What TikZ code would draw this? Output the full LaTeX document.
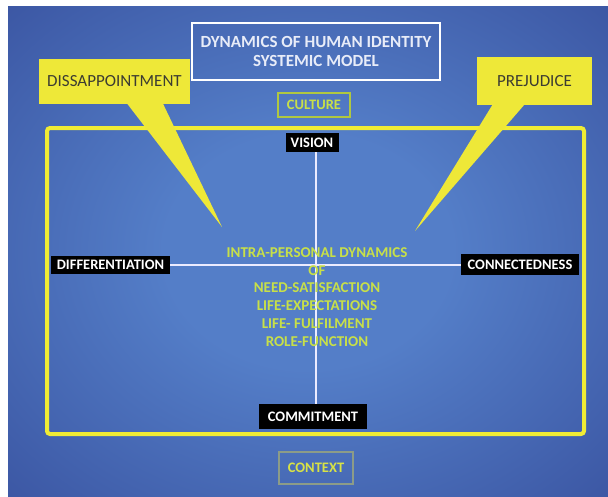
\documentclass[tikz,border=0pt]{standalone}
\usepackage{fontspec}
\setmainfont{Carlito}
\definecolor{bginner}{RGB}{84,126,200}
\definecolor{bgouter}{RGB}{32,42,122}
\definecolor{frameyellow}{RGB}{240,236,52}
\definecolor{calloutyellow}{RGB}{238,232,56}
\definecolor{midtext}{RGB}{200,224,72}
\definecolor{cultureborder}{RGB}{176,200,64}
\definecolor{contextborder}{RGB}{140,156,136}
\definecolor{contexttext}{RGB}{216,226,70}
\definecolor{titletext}{RGB}{232,236,248}
\definecolor{callouttext}{RGB}{60,60,50}
\pgfdeclareradialshading{bgshade}{\pgfpoint{0bp}{0bp}}{color(0bp)=(bginner); color(12bp)=(bginner); color(40bp)=(bgouter!55!bginner); color(60bp)=(bgouter!90!bginner); color(71bp)=(bgouter)}
\tikzset{
  blacklab/.style={fill=black, text=white, inner sep=0pt, font=\bfseries\fontsize{14.5}{15}\selectfont},
  calloutbox/.style={fill=calloutyellow, text=callouttext, inner sep=0pt, font=\fontsize{17}{18}\selectfont},
  tail/.style={fill=calloutyellow},
  axis/.style={draw=white!92!blue, line width=2pt},
  smallbox/.style={inner sep=0pt, font=\bfseries\fontsize{14.5}{15}\selectfont}
}
\begin{document}
\begin{tikzpicture}[x=1pt,y=-1pt]
\useasboundingbox (0,0) rectangle (608,496);
\fill[white] (0,0) rectangle (608,496);
\shade[shading=bgshade] (8,6) rectangle (608,496);

% title
\node[draw=white, line width=1.6pt, minimum width=248, minimum height=57, inner sep=0pt,
      text=titletext, align=center, font=\bfseries\fontsize{17}{19}\selectfont] (title) at (316,51.5)
      {DYNAMICS OF HUMAN IDENTITY\\SYSTEMIC MODEL};

% frame
\node[draw=frameyellow, line width=4pt, rounded corners=3pt, minimum width=537, minimum height=306] (frame) at (315.5,281) {};

% culture / context
\node[smallbox, draw=cultureborder, line width=1.5pt, text=midtext, minimum width=72, minimum height=24] (culture) at (314,105) {CULTURE};
\node[smallbox, draw=contextborder, line width=2pt, text=contexttext, minimum width=74, minimum height=32] (context) at (316,468) {CONTEXT};

% labels
\node[blacklab, minimum width=53, minimum height=19] (vision) at (312,142.5) {VISION};
\node[blacklab, minimum width=119, minimum height=18] (diff) at (110.5,264.5) {DIFFERENTIATION};
\node[blacklab, minimum width=118, minimum height=21] (conn) at (520,264.5) {CONNECTEDNESS};
\node[blacklab, minimum width=108, minimum height=25] (commit) at (313,416.5) {COMMITMENT};

% axes
\draw[axis] ([xshift=4pt]vision.south) -- ([xshift=4pt]vision.south |- commit.north);
\draw[axis] (diff.east) -- (conn.west);

% central text
\node[text=midtext, align=center, font=\bfseries\fontsize{15}{17.8}\selectfont, inner sep=0pt] (centre) at (317,297)
  {INTRA-PERSONAL DYNAMICS\\OF\\NEED-SATISFACTION\\LIFE-EXPECTATIONS\\LIFE- FULFILMENT\\ROLE-FUNCTION};

% callouts
\node[calloutbox, minimum width=151, minimum height=45] (dis) at (114.5,81.5) {DISSAPPOINTMENT};
\coordinate (distip) at (222,227);
\fill[tail] ([xshift=88pt,yshift=1pt]dis.south west) -- (distip) -- ([xshift=124pt,yshift=1pt]dis.south west) -- cycle;

\node[calloutbox, minimum width=115, minimum height=48] (prej) at (534.5,81) {PREJUDICE};
\coordinate (prejtip) at (415,231);
\fill[tail] ([xshift=16pt,yshift=1pt]prej.south west) -- (prejtip) -- ([xshift=48pt,yshift=1pt]prej.south west) -- cycle;
\end{tikzpicture}
\end{document}
